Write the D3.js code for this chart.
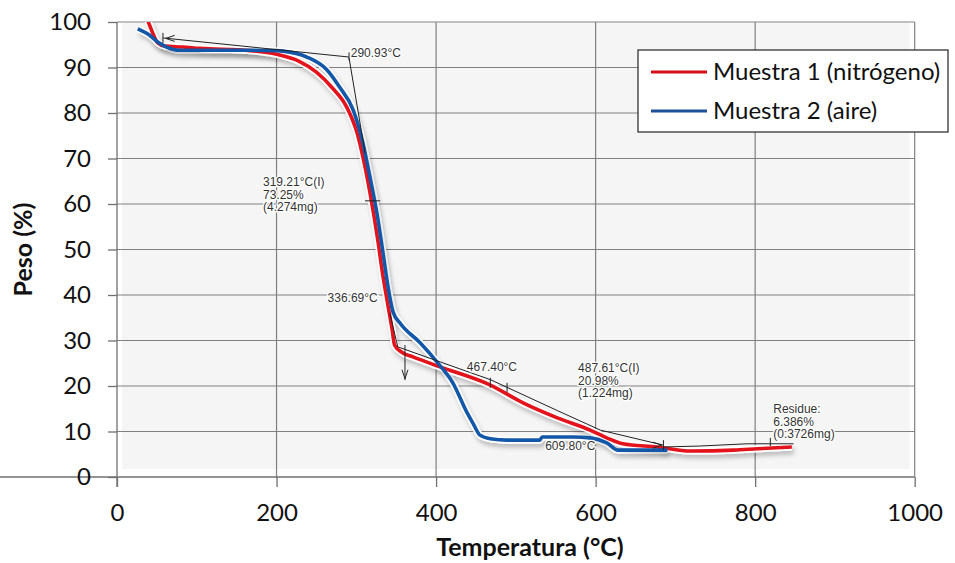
<!DOCTYPE html>
<html>
<head>
<meta charset="utf-8">
<script src="https://cdn.jsdelivr.net/npm/d3@7/dist/d3.min.js"></script>
<style>
  body { margin: 0; background: #fff; }
  svg text { font-family: Lato, "Open Sans", sans-serif; fill: #111; }
  .note { font-family: "Liberation Sans", Arial, sans-serif; font-size: 12px; fill: #333; }
</style>
</head>
<body>
<svg id="chart" width="955" height="563"></svg>
<script>
// ---- data ----
const xTicks = [0, 200, 400, 600, 800, 1000];
const yTicks = [0, 10, 20, 30, 40, 50, 60, 70, 80, 90, 100];

const seriesNames = ["Muestra 1 (nitrógeno)", "Muestra 2 (aire)"];

// Muestra 1 (nitrógeno): temperatura (°C) / peso (%)
const redTemp = [38, 46, 51, 60, 82, 104, 167, 200, 229, 250, 270, 288, 301, 308, 317, 327, 333, 340, 345, 348, 358, 371, 405, 468, 509, 552, 593, 614, 634, 677, 719, 773, 803, 846];
const redPeso = [100.6, 97.1, 95.4, 94.7, 94.5, 94.2, 93.7, 92.9, 91.3, 89.0, 85.5, 81.3, 75.6, 70.6, 62.6, 52.0, 44.6, 37.4, 32.3, 29.0, 27.3, 26.4, 24.2, 20.2, 16.3, 13.0, 10.3, 8.6, 7.3, 6.6, 5.7, 5.9, 6.2, 6.6];

// Muestra 2 (aire)
const blueTemp = [26, 41, 51, 62, 79, 129, 167, 200, 208, 238, 263, 279, 296, 308, 317, 326, 333, 340, 346, 355, 380, 401, 421, 439, 446, 455, 468, 489, 530, 533, 572, 593, 614, 628, 690];
const bluePeso = [98.5, 97.1, 95.6, 94.5, 93.8, 93.8, 93.8, 93.7, 93.6, 92.3, 89.5, 85.7, 80.7, 73.6, 66.0, 57.8, 49.8, 41.5, 36.3, 33.8, 29.5, 25.3, 20.7, 14.1, 11.9, 9.2, 8.4, 8.1, 8.1, 8.8, 8.8, 8.6, 7.5, 5.9, 5.9];

// instrument analysis marks (tangents, ticks) in temperatura / peso
const tangentLines = [
  [[57.6, 96.5], [290.9, 92.3]],
  [[290.9, 92.1], [311, 71.2]],
  [[342, 36.0], [352, 28.6]],
  [[352, 28.6], [405, 25.3], [468, 21.4], [552, 14.6], [606, 10.3], [685, 7.0]],
  [[685, 6.6], [730, 6.8], [790, 7.3], [848, 7.3]]
];
const tickMarks = [
  [[57.6, 97.6], [57.6, 95.3]],
  [[290.9, 93.3], [290.9, 91.6]],
  [[311, 60.7], [330, 60.7]],
  [[468, 21.8], [468, 19.6]],
  [[489, 20.7], [489, 18.6]],
  [[685, 8.1], [685, 5.9]],
  [[819, 8.6], [819, 6.8]]
];
const arrowTips = [
  { t: 61, p: 96.4, dir: "left" },
  { t: 361, p: 21.6, dir: "down" },
  { t: 683, p: 7.0, dir: "right" }
];
const arrowShafts = [
  [[361, 29.0], [361, 21.3]]
];

const notes = [
  { t: 293, p: 92.3, lines: ["290.93°C"] },
  { t: 183, p: 64.0, lines: ["319.21°C(I)", "73.25%", "(4.274mg)"] },
  { t: 264, p: 38.5, lines: ["336.69°C"] },
  { t: 438.6, p: 23.3, lines: ["467.40°C"] },
  { t: 578, p: 23.1, lines: ["487.61°C(I)", "20.98%", "(1.224mg)"] },
  { t: 536.7, p: 5.9, lines: ["609.80°C"] },
  { t: 822.7, p: 14.1, lines: ["Residue:", "6.386%", "(0.3726mg)"] }
];

// ---- chart ----
const margin = { left: 117, right: 40, top: 22, bottom: 86 };
const width = 955, height = 563;
const svg = d3.select("#chart");

const x = d3.scaleLinear().domain([0, 1000]).range([margin.left, width - margin.right - 0.3]);
const y = d3.scaleLinear().domain([0, 100]).range([height - margin.bottom, margin.top]);

const defs = svg.append("defs");
defs.append("clipPath").attr("id", "plotclip")
  .append("rect")
  .attr("x", x(0)).attr("y", y(100))
  .attr("width", x(1000) - x(0)).attr("height", y(0) - y(100));
const shadow = defs.append("filter").attr("id", "shadow")
  .attr("x", "-5%").attr("y", "-5%").attr("width", "110%").attr("height", "120%");
shadow.append("feDropShadow")
  .attr("dx", 2).attr("dy", 4).attr("stdDeviation", 2.2)
  .attr("flood-color", "#000").attr("flood-opacity", 0.22);

// light panel behind the curves
svg.append("rect")
  .attr("x", x(0) + 5).attr("y", y(100) + 1)
  .attr("width", x(1000) - x(0) - 10).attr("height", y(0) - y(100) - 9)
  .attr("fill", "#f5f5f5");

// grid
const grid = svg.append("g").attr("stroke", "#808080").attr("stroke-width", 1.2);
grid.selectAll("line.v").data(xTicks.slice(1)).join("line")
  .attr("x1", d => x(d)).attr("x2", d => x(d))
  .attr("y1", y(100)).attr("y2", y(0));
grid.selectAll("line.h").data(yTicks.slice(1)).join("line")
  .attr("x1", x(0)).attr("x2", x(1000))
  .attr("y1", d => y(d)).attr("y2", d => y(d));

// axes
const xAxis = svg.append("g")
  .attr("transform", `translate(0,${y(0)})`)
  .call(d3.axisBottom(x).tickValues(xTicks).tickFormat(d3.format("d"))
    .tickSize(10).tickPadding(17).tickSizeOuter(0));
const yAxis = svg.append("g")
  .attr("transform", `translate(${x(0)},0)`)
  .call(d3.axisLeft(y).tickValues(yTicks).tickSize(9).tickPadding(17).tickSizeOuter(0));
[xAxis, yAxis].forEach(a => {
  a.select(".domain").attr("stroke", "#707070").attr("stroke-width", 1.3);
  a.selectAll(".tick line").attr("stroke", "#707070").attr("stroke-width", 1.3);
  a.selectAll(".tick text").attr("font-size", 24).attr("font-family", "Lato, sans-serif").attr("fill", "#111");
});
xAxis.select(".domain").attr("d", `M${-9},0H${x(1000)}`);
yAxis.select(".domain").attr("d", `M0,${y(100)}V${y(0) + 10}`);

// axis titles
svg.append("text")
  .attr("x", 530).attr("y", 556)
  .attr("text-anchor", "middle")
  .attr("font-size", 25).attr("font-weight", "bold")
  .text("Temperatura  (°C)");
svg.append("text")
  .attr("transform", `translate(32,${(y(0) + y(100)) / 2}) rotate(-90)`)
  .attr("text-anchor", "middle")
  .attr("font-size", 25).attr("font-weight", "bold")
  .text("Peso (%)");

// curves
const line = d3.line().x(d => x(d[0])).y(d => y(d[1])).curve(d3.curveMonotoneX);
const redData = redTemp.map((t, i) => [t, redPeso[i]]);
const blueData = blueTemp.map((t, i) => [t, bluePeso[i]]);

const curves = svg.append("g").attr("clip-path", "url(#plotclip)");
const curveColors = ["#e3121b", "#1257a8"];
[blueData, redData].forEach(data => {
  curves.append("path").datum(data)
    .attr("d", line).attr("fill", "none")
    .attr("stroke", "#fff").attr("stroke-width", 7)
    .attr("stroke-linejoin", "round")
    .attr("filter", "url(#shadow)");
});

const marks = svg.append("g").attr("stroke", "#222").attr("stroke-width", 1).attr("fill", "none");
const plain = d3.line().x(d => x(d[0])).y(d => y(d[1]));

curves.append("path").datum(redData)
  .attr("d", line).attr("fill", "none")
  .attr("stroke", curveColors[0]).attr("stroke-width", 3.6).attr("stroke-linejoin", "round");
curves.append("path").datum(blueData)
  .attr("d", line).attr("fill", "none")
  .attr("stroke", curveColors[1]).attr("stroke-width", 3.6).attr("stroke-linejoin", "round");

marks.raise();
marks.selectAll("path.tan").data(tangentLines).join("path").attr("d", plain);
marks.selectAll("path.tick").data(tickMarks).join("path").attr("d", plain);
marks.selectAll("path.shaft").data(arrowShafts).join("path").attr("d", plain);
const arrowShape = {
  left: "M9,-3L0,0L9,3",
  right: "M-9,-3L0,0L-9,3",
  down: "M-3,-9L0,0L3,-9"
};
marks.selectAll("path.arrow").data(arrowTips).join("path")
  .attr("transform", d => `translate(${x(d.t)},${y(d.p)})`)
  .attr("d", d => arrowShape[d.dir]);

// notes
const noteG = svg.append("g");
notes.forEach(n => {
  const t = noteG.append("text").attr("class", "note")
    .attr("x", x(n.t)).attr("y", y(n.p))
    .attr("stroke", "#fff").attr("stroke-width", 2.5).attr("paint-order", "stroke");
  n.lines.forEach((s, i) => {
    t.append("tspan").attr("x", x(n.t)).attr("dy", i === 0 ? 0 : 12.7).text(s);
  });
});

// legend
const lg = svg.append("g").attr("transform", "translate(638,50)");
lg.append("rect").attr("width", 310).attr("height", 82)
  .attr("fill", "#fff").attr("stroke", "#333").attr("stroke-width", 1.3);
seriesNames.forEach((name, i) => {
  const row = lg.append("g").attr("transform", `translate(0,${22 + i * 39})`);
  row.append("line").attr("x1", 13).attr("x2", 69)
    .attr("stroke", i === 0 ? "#d60f16" : "#1f4f96").attr("stroke-width", 3.2);
  row.append("text").attr("x", 75).attr("y", 8)
    .attr("font-size", 24).text(name);
});
</script>
</body>
</html>
